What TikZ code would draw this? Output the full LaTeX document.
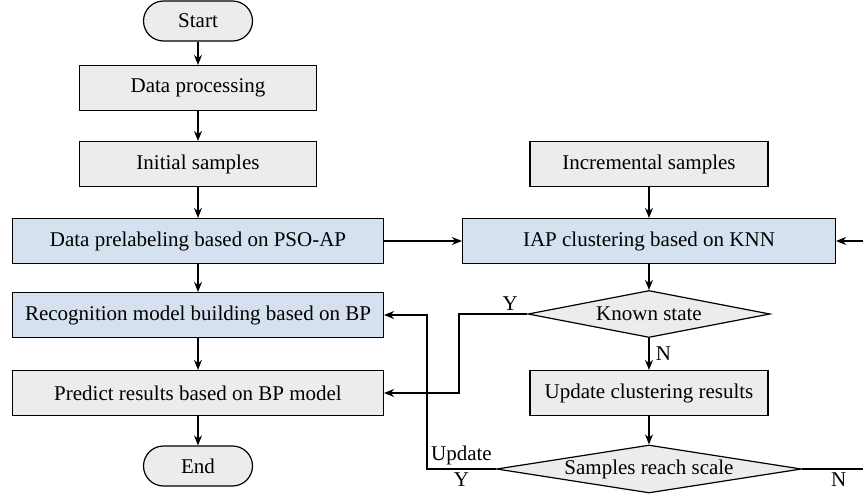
\documentclass[tikz,border=0pt]{standalone}
\usepackage{fontspec}
\setmainfont{Liberation Serif}
\usetikzlibrary{shapes.geometric,arrows.meta}

\definecolor{boxgray}{RGB}{235,236,236}
\definecolor{boxblue}{RGB}{214,225,240}

\tikzset{
  every node/.style={font=\fontsize{21}{24}\selectfont},
  procbox/.style={draw,line width=1.2pt,fill=boxgray,minimum height=45pt,inner sep=0pt},
  algbox/.style={procbox,fill=boxblue},
  termbox/.style={draw,line width=1.2pt,fill=boxgray,rounded corners=20pt,minimum width=109pt,minimum height=40pt},
  decbox/.style={draw,line width=1.2pt,fill=boxgray,diamond,inner sep=0pt},
  flow/.style={-{Stealth[length=10pt,width=8pt]},line width=1.2pt}
}

\begin{document}
\begin{tikzpicture}[x=1pt,y=-1pt]
				\useasboundingbox (0,0) rectangle (863,496);
				% left column
				\node[termbox] (start) at (198,21) {Start};
				\node[procbox,minimum width=237pt] (dp) at (198,88) {Data processing};
				\node[procbox,minimum width=237pt] (init) at (198,164) {Initial samples};
				\node[algbox,minimum width=371pt] (pre) at (198,241) {Data prelabeling based on PSO-AP};
				\node[algbox,minimum width=371pt] (rec) at (198,315) {Recognition model building based on BP};
				\node[procbox,minimum width=371pt] (pred) at (198,393) {Predict results based on BP model};
				\node[termbox] (end) at (198,466) {End};
				% right column
				\node[procbox,minimum width=238pt] (inc) at (649,164) {Incremental samples};
				\node[algbox,minimum width=373pt] (iap) at (649,241) {IAP clustering based on KNN};
				\node[decbox,aspect=5,minimum width=242pt,minimum height=47pt] (known) at (649,314) {Known state};
				\node[procbox,minimum width=238pt] (upd) at (649,393) {Update clustering results};
				\node[decbox,aspect=6,minimum width=305pt,minimum height=48pt] (reach) at (649,469) {Samples reach scale};
				\coordinate (ybend) at (459,314);
				\coordinate (ubend) at (427,469);
				\coordinate (nout) at (863,469);
				\coordinate (nin) at (863,241);

				\draw[flow](start)--(dp);
				\draw[flow](dp)--(init);
				\draw[flow](init)--(pre);
				\draw[flow](pre)--(rec);
				\draw[flow](rec)--(pred);
				\draw[flow](pred)--(end);
				\draw[flow](pre.east)--(iap.west);
				\draw[flow](inc)--(iap);
				\draw[flow](iap)--(known);
				\draw[flow](known)--node[right,xshift=3pt]{N}(upd);
				\draw[flow](upd)--(reach);
				\draw[flow](known.west)--node[above,pos=0.25]{Y}(ybend)|-(pred.east);
				\draw[flow](reach.west)--node[above,pos=0.5]{Update}node[below,pos=0.5]{Y}(ubend)|-(rec.east);
				\draw[line width=1.2pt](reach.east)--node[below,pos=0.6]{N}(nout);
				\draw[flow](nin)--(iap.east);
			\end{tikzpicture}
\end{document}
